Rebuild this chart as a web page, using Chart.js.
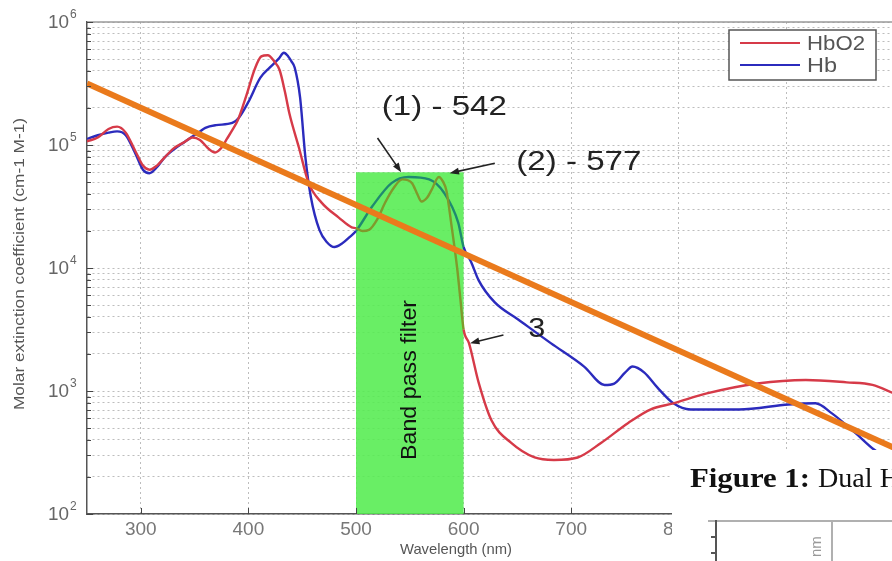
<!DOCTYPE html>
<html>
<head>
<meta charset="utf-8">
<script src="https://cdn.jsdelivr.net/npm/chart.js@4.4.1/dist/chart.umd.min.js"></script>
<style>
  html, body { margin: 0; padding: 0; background: #fff; overflow: hidden; }
  #wrap { position: absolute; left: 0; top: 0; width: 900px; height: 561px; }
</style>
</head>
<body>
<div id="wrap"><canvas id="chart"></canvas></div>
<script>
// HbO2 curve (red)
const nmHbO2 = [250, 260, 270, 278, 286, 295, 302, 308, 315, 322, 330, 340, 348, 355, 362, 369, 375, 380, 385, 390,
  398, 406, 412, 418, 424, 429, 434, 438, 447, 456, 468, 484, 496, 500, 506, 512, 520, 527, 535, 543,
  552, 557, 561, 566, 570, 577, 581, 584, 589, 594, 597, 600, 605, 614, 626, 644, 666, 684, 706, 728,
  753, 774, 795, 826, 873, 918, 956, 980, 1000];
const hbo2 = [107000, 115000, 135000, 141000, 126000, 89000, 68000, 63000, 68000, 79000, 93000, 105000, 115000, 110000, 95000, 87000, 95000, 112000, 132000, 158000,
  251000, 417000, 525000, 537000, 479000, 407000, 270000, 182000, 95000, 49000, 34000, 25700, 21400, 21100, 20000, 20400, 25100, 33900, 44700, 52500,
  49000, 39800, 34700, 37200, 42700, 55000, 50100, 42700, 21400, 10000, 5600, 3160, 2450, 1170, 575, 380, 288, 275, 288, 380,
  550, 710, 794, 955, 1150, 1230, 1175, 1120, 955];

// Hb curve (blue)
const nmHb = [250, 260, 270, 278, 286, 295, 302, 308, 315, 322, 330, 340, 348, 355, 360, 370, 385, 391, 400, 411,
  420, 428, 433, 437, 440, 443, 448, 453, 458, 466, 473, 480, 487, 494, 500, 515, 533, 549, 568, 582,
  595, 600, 607, 614, 629, 651, 681, 712, 731, 740, 750, 757, 768, 780, 795, 811, 856, 902, 927, 942,
  964, 982, 1000];
const hb = [112000, 120000, 126000, 129000, 120000, 85000, 63000, 59000, 66000, 79000, 91000, 105000, 117000, 129000, 138000, 145000, 151000, 166000, 224000, 351000,
  427000, 501000, 562000, 525000, 479000, 427000, 245000, 79000, 38000, 20400, 16200, 14800, 15800, 17800, 20000, 31600, 49000, 55000, 52500, 40700,
  23400, 14800, 11200, 7940, 5250, 3800, 2450, 1580, 1120, 1150, 1410, 1580, 1410, 1070, 794, 708, 708, 776, 794, 661,
  457, 331, 263];

// straight orange line
const nmLine = [250, 1000];
const lineValues = [316000, 345];

// band pass filter
const bandStart = 500;
const bandEnd = 600;
const bandTop = 60000;

const xTickValues = [300, 400, 500, 600, 700, 800, 900];
const yTickValues = [1e2, 1e3, 1e4, 1e5, 1e6];
const yTickExponents = ['2', '3', '4', '5', '6'];
const yGridSteps = [1, 2, 3, 4, 5, 6, 7, 8, 9];

const seriesNames = ['HbO2', 'Hb'];
const RED = '#d63a48';
const BLUE = '#2b2bbd';
const RED_IN_BAND = '#7f9a2c';
const BLUE_IN_BAND = '#1f8a70';
const FONT = '"Liberation Sans", Arial, "DejaVu Sans", sans-serif';
const SERIF = '"Liberation Serif", "Times New Roman", serif';

function toPoints(xs, ys) {
  return xs.map((v, i) => ({ x: v, y: ys[i] }));
}

function inBand(c) {
  return c.p0.parsed.x >= bandStart && c.p1.parsed.x <= bandEnd;
}

// draw text squeezed/stretched to a given width (the source image is stretched sideways)
function fitText(ctx, text, x, y, width, align) {
  const w = ctx.measureText(text).width;
  const k = width / w;
  let left = x;
  if (align === 'center') left = x - width / 2;
  if (align === 'right') left = x - width;
  ctx.save();
  ctx.translate(left, y);
  ctx.scale(k, 1);
  ctx.textAlign = 'left';
  ctx.fillText(text, 0, 0);
  ctx.restore();
}

function arrow(ctx, x0, y0, x1, y1) {
  const a = Math.atan2(y1 - y0, x1 - x0);
  const L = 10;
  ctx.beginPath();
  ctx.moveTo(x0, y0);
  ctx.lineTo(x1 - Math.cos(a) * 6, y1 - Math.sin(a) * 6);
  ctx.stroke();
  ctx.beginPath();
  ctx.moveTo(x1, y1);
  ctx.lineTo(x1 - L * Math.cos(a - 0.35), y1 - L * Math.sin(a - 0.35));
  ctx.lineTo(x1 - L * Math.cos(a + 0.35), y1 - L * Math.sin(a + 0.35));
  ctx.closePath();
  ctx.fill();
}

const decorations = {
  id: 'decorations',
  beforeDatasetsDraw(chart) {
    const { ctx, scales: { x, y } } = chart;
    const x0 = x.getPixelForValue(bandStart), x1 = x.getPixelForValue(bandEnd);
    const yt = y.getPixelForValue(bandTop), yb = y.getPixelForValue(y.min);
    ctx.save();
    ctx.fillStyle = 'rgba(84, 236, 80, 0.88)';
    ctx.fillRect(x0, yt, x1 - x0, yb - yt);
    ctx.restore();
  },
  afterDatasetsDraw(chart) {
    const { ctx, scales: { x, y } } = chart;
    const px = v => x.getPixelForValue(v);
    const py = v => y.getPixelForValue(v);
    ctx.save();
    // band label
    ctx.translate(px(550), py(1230));
    ctx.rotate(-Math.PI / 2);
    ctx.fillStyle = '#111';
    ctx.font = '22px ' + FONT;
    ctx.textBaseline = 'middle';
    fitText(ctx, 'Band pass filter', 0, 0, 160, 'center');
    ctx.restore();

    ctx.save();
    ctx.fillStyle = '#222';
    ctx.strokeStyle = '#222';
    ctx.lineWidth = 1.6;
    ctx.font = '27px ' + FONT;
    ctx.textBaseline = 'middle';
    fitText(ctx, '(1) - 542', px(524), py(200000), 125, 'left');
    fitText(ctx, '(2) - 577', px(649), py(72000), 125, 'left');
    fitText(ctx, '3', px(668), py(3160), 17, 'center');
    arrow(ctx, px(520), py(114000), px(542), py(60000));
    arrow(ctx, px(629), py(71000), px(587), py(59000));
    arrow(ctx, px(637), py(2850), px(606), py(2450));
    ctx.restore();
  },
  afterDraw(chart) {
    const { ctx, chartArea: a, scales: { x, y } } = chart;
    ctx.save();
    // top frame + inward ticks
    ctx.strokeStyle = '#9a9a9a';
    ctx.lineWidth = 1.5;
    ctx.beginPath();
    ctx.moveTo(a.left, a.top);
    ctx.lineTo(a.right, a.top);
    ctx.stroke();
    ctx.strokeStyle = '#444';
    ctx.lineWidth = 1;
    y.ticks.forEach(t => {
      const yy = Math.round(y.getPixelForValue(t.value)) + 0.5;
      ctx.beginPath();
      ctx.moveTo(a.left, yy);
      ctx.lineTo(a.left + (yTickValues.includes(t.value) ? 6 : 4), yy);
      ctx.stroke();
    });
    x.ticks.forEach(t => {
      const xx = Math.round(x.getPixelForValue(t.value)) + 0.5;
      ctx.beginPath();
      ctx.moveTo(xx, a.bottom);
      ctx.lineTo(xx, a.bottom - 6);
      ctx.stroke();
    });

    // y tick labels 10^n
    ctx.fillStyle = '#666';
    ctx.textBaseline = 'middle';
    yTickValues.forEach((v, i) => {
      const yy = y.getPixelForValue(v);
      ctx.font = '19px ' + FONT;
      fitText(ctx, '10', 69, yy + 1, 21, 'right');
      ctx.font = '12px ' + FONT;
      ctx.textAlign = 'left';
      ctx.fillText(yTickExponents[i], 70, yy - 7);
    });

    // axis titles
    ctx.fillStyle = '#555';
    ctx.font = '15px ' + FONT;
    fitText(ctx, 'Wavelength (nm)', 456, 550, 112, 'center');
    ctx.save();
    ctx.translate(20, 264);
    ctx.rotate(-Math.PI / 2);
    ctx.font = '15px ' + FONT;
    fitText(ctx, 'Molar extinction coefficient (cm-1 M-1)', 0, 0, 292, 'center');
    ctx.restore();

    // legend
    ctx.fillStyle = '#fff';
    ctx.fillRect(729, 30, 147, 50);
    ctx.strokeStyle = '#555';
    ctx.lineWidth = 1.5;
    ctx.strokeRect(729, 30, 147, 50);
    const legColors = [RED, BLUE];
    const legWidths = [58, 30];
    seriesNames.forEach((n, i) => {
      const yy = 43 + i * 22;
      ctx.strokeStyle = legColors[i];
      ctx.lineWidth = 2;
      ctx.beginPath();
      ctx.moveTo(740, yy);
      ctx.lineTo(800, yy);
      ctx.stroke();
      ctx.fillStyle = '#555';
      ctx.font = '20px ' + FONT;
      fitText(ctx, n, 807, yy + 1, legWidths[i], 'left');
    });

    // overlapping page fragment (bottom right)
    ctx.fillStyle = '#fff';
    ctx.fillRect(672, 450, 240, 111);
    ctx.fillStyle = '#111';
    ctx.textBaseline = 'alphabetic';
    ctx.font = 'bold 27px ' + SERIF;
    fitText(ctx, 'Figure 1:', 690, 487, 120, 'left');
    ctx.font = '27px ' + SERIF;
    fitText(ctx, 'Dual H', 818, 487, 82, 'left');
    ctx.strokeStyle = '#b0b0b0';
    ctx.lineWidth = 2;
    ctx.beginPath();
    ctx.moveTo(708, 521);
    ctx.lineTo(900, 521);
    ctx.moveTo(832, 521);
    ctx.lineTo(832, 561);
    ctx.stroke();
    ctx.strokeStyle = '#555';
    ctx.beginPath();
    ctx.moveTo(716, 520);
    ctx.lineTo(716, 561);
    ctx.moveTo(711, 537);
    ctx.lineTo(716, 537);
    ctx.moveTo(711, 553);
    ctx.lineTo(716, 553);
    ctx.stroke();
    ctx.save();
    ctx.translate(817, 557);
    ctx.rotate(-Math.PI / 2);
    ctx.fillStyle = '#999';
    ctx.font = '15px ' + FONT;
    ctx.textBaseline = 'middle';
    ctx.textAlign = 'left';
    ctx.fillText('nm', 0, 0);
    ctx.restore();
    ctx.restore();
  }
};

new Chart(document.getElementById('chart'), {
  type: 'line',
  data: {
    datasets: [
      {
        label: 'fit',
        data: toPoints(nmLine, lineValues),
        borderColor: '#ea7a1c',
        borderWidth: 6,
        pointRadius: 0
      },
      {
        label: seriesNames[0],
        data: toPoints(nmHbO2, hbo2),
        borderColor: RED,
        borderWidth: 2.4,
        pointRadius: 0,
        cubicInterpolationMode: 'monotone',
        segment: { borderColor: c => inBand(c) ? RED_IN_BAND : undefined }
      },
      {
        label: seriesNames[1],
        data: toPoints(nmHb, hb),
        borderColor: BLUE,
        borderWidth: 2.4,
        pointRadius: 0,
        cubicInterpolationMode: 'monotone',
        segment: { borderColor: c => inBand(c) ? BLUE_IN_BAND : undefined }
      }
    ]
  },
  options: {
    responsive: true,
    maintainAspectRatio: false,
    animation: false,
    layout: { padding: { left: 0, top: 22, right: 6, bottom: 0 } },
    plugins: { legend: { display: false }, tooltip: { enabled: false } },
    scales: {
      x: {
        type: 'linear',
        min: 250,
        max: 1000,
        afterBuildTicks: s => { s.ticks = xTickValues.map(v => ({ value: v })); },
        afterFit: s => { s.height = 47; },
        grid: { color: '#bdbdbd', drawTicks: false },
        border: { display: true, color: '#555', width: 1.5, dash: [2, 3] },
        ticks: { color: '#777', padding: 4, font: { size: 19, family: FONT }, maxRotation: 0 }
      },
      y: {
        type: 'logarithmic',
        min: 1e2,
        max: 1e6,
        afterBuildTicks: s => {
          const t = [];
          yTickValues.slice(0, -1).forEach(d => yGridSteps.forEach(k => t.push({ value: d * k })));
          t.push({ value: yTickValues[yTickValues.length - 1] });
          s.ticks = t;
        },
        afterFit: s => { s.width = 87; },
        grid: { color: '#bdbdbd', drawTicks: false },
        border: { display: true, color: '#555', width: 1.5, dash: [2, 3] },
        ticks: { display: false, autoSkip: false }
      }
    }
  },
  plugins: [decorations]
});
</script>
</body>
</html>
